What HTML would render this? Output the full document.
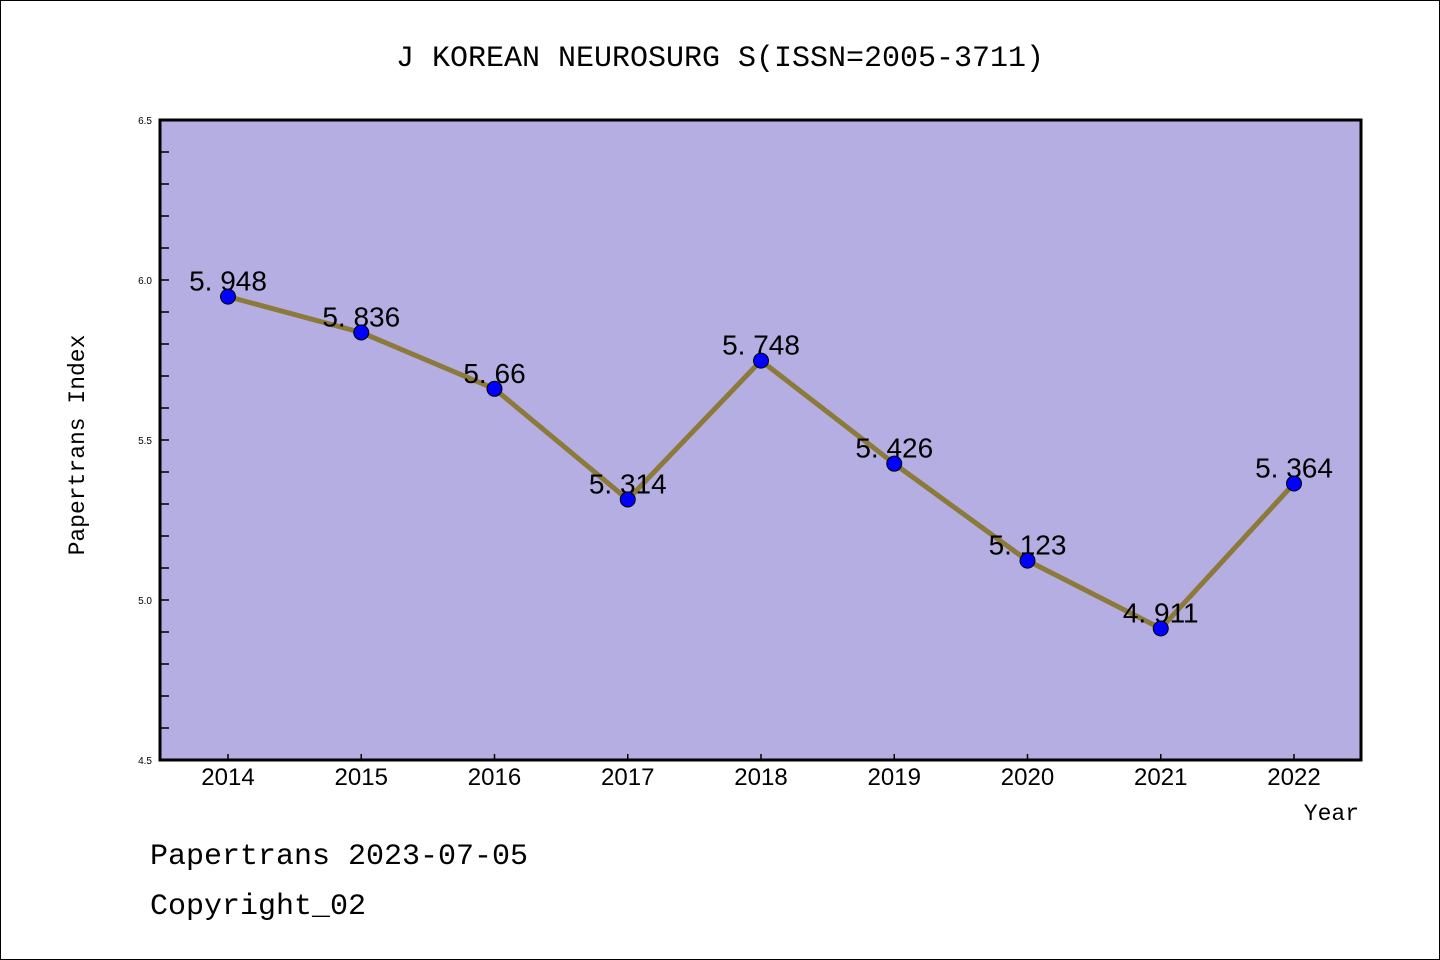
<!DOCTYPE html>
<html><head><meta charset="utf-8"><style>
body{margin:0;background:#fff}
svg{display:block;font-family:"Liberation Sans","WenQuanYi Zen Hei",sans-serif}
</style></head><body>
<svg id="chart" width="1440" height="960" viewBox="0 0 1440 960">
<rect x="0.5" y="0.5" width="1439" height="959" fill="#fff" stroke="#000"/>
<text x="720" y="66" text-anchor="middle" font-size="30" font-family="WenQuanYi Zen Hei, Liberation Mono, monospace">J KOREAN NEUROSURG S(ISSN=2005-3711)</text>
<rect x="160" y="120" width="1201" height="640" fill="#b5aee2"/>
<g id="axes"></g>
<g id="marks"></g>
<rect x="160" y="120" width="1201" height="640" fill="none" stroke="#000" stroke-width="3"/>
<text transform="translate(84,445) rotate(-90)" text-anchor="middle" font-size="23" font-family="WenQuanYi Zen Hei, Liberation Mono, monospace">Papertrans Index</text>
<text x="1359" y="820" text-anchor="end" font-size="23" font-family="WenQuanYi Zen Hei, Liberation Mono, monospace">Year</text>
<text x="150" y="864" font-size="30" font-family="WenQuanYi Zen Hei, Liberation Mono, monospace">Papertrans 2023-07-05</text>
<text x="150" y="914" font-size="30" font-family="WenQuanYi Zen Hei, Liberation Mono, monospace">Copyright_02</text>
</svg>
<script>
const years = [2014,2015,2016,2017,2018,2019,2020,2021,2022];
const values = [5.948,5.836,5.66,5.314,5.748,5.426,5.123,4.911,5.364];
const yTicks = [4.5,5.0,5.5,6.0,6.5];
const NS="http://www.w3.org/2000/svg";
const x0=228, xStep=133.25;
function xs(i){return x0+i*xStep;}
function ys(v){return 760-(v-4.5)*320;}
function mk(tag,attrs,parent){const e=document.createElementNS(NS,tag);for(const k in attrs)e.setAttribute(k,attrs[k]);parent.appendChild(e);return e;}
const axes=document.getElementById('axes'), marks=document.getElementById('marks');
for(let k=1;k<20;k++){const v=4.5+k*0.1;
 const t=mk('line',{x1:160,x2:169,y1:ys(v),y2:ys(v),stroke:'#000','stroke-width':1.5},axes);
 
 }
yTicks.forEach(v=>{const t=mk('text',{x:152,y:ys(v)+4,'text-anchor':'end','font-size':10},axes);t.textContent=v.toFixed(1);
 
 });
years.forEach((y,i)=>{
 const t=mk('line',{x1:xs(i),x2:xs(i),y1:760,y2:754,stroke:'#000','stroke-width':1.5},axes);
 
 
 const l=mk('text',{x:xs(i),y:785,'text-anchor':'middle','font-size':24},axes);l.textContent=y;
 
 });
const pts=values.map((v,i)=>xs(i)+','+ys(v)).join(' ');
const line=mk('polyline',{points:pts,fill:'none',stroke:'#8c7a3a','stroke-width':5,'stroke-linejoin':'round'},marks);


values.forEach((v,i)=>{
 const lb=mk('text',{x:xs(i),y:ys(v)-6,'text-anchor':'middle','font-size':28,'font-family':'WenQuanYi Zen Hei, Liberation Sans, sans-serif'},marks);lb.textContent=String(v).replace('.','. ');
 
 
 const c=mk('circle',{cx:xs(i),cy:ys(v),r:7.5,fill:'#0000ff',stroke:'#000','stroke-width':1},marks);
 
 
});
</script>
</body></html>
